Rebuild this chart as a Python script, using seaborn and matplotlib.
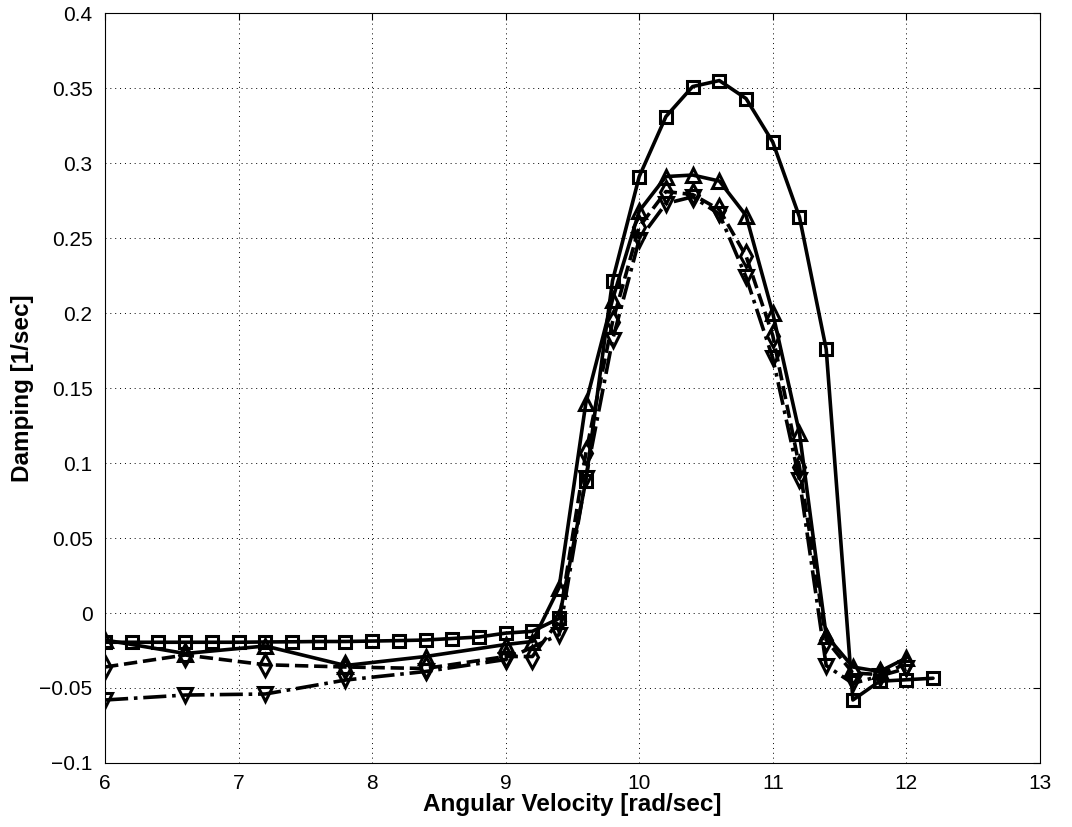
import numpy as np
import pandas as pd
import matplotlib
matplotlib.use('Agg')
import matplotlib.pyplot as plt
from matplotlib.ticker import FuncFormatter
import seaborn as sns

# Data
sq_x = [6.0, 6.2, 6.4, 6.6, 6.8, 7.0, 7.2, 7.4, 7.6, 7.8, 8.0, 8.2, 8.4, 8.6, 8.8,
        9.0, 9.2, 9.4, 9.6, 9.8, 10.0, 10.2, 10.4, 10.6, 10.8, 11.0, 11.2, 11.4,
        11.6, 11.8, 12.0, 12.2]
sq_y = [-0.0195, -0.0195, -0.0195, -0.0195, -0.0195, -0.0195, -0.0193, -0.0192,
        -0.019, -0.019, -0.0187, -0.0184, -0.018, -0.017, -0.016,
        -0.0134, -0.0122, -0.0036, 0.088, 0.2215, 0.291, 0.331, 0.351, 0.355,
        0.343, 0.314, 0.264, 0.176, -0.058, -0.0455, -0.0445, -0.0435]

tri_x = [6.0, 6.6, 7.2, 7.8, 8.4, 9.0, 9.2, 9.4, 9.6, 9.8, 10.0, 10.2, 10.4, 10.6,
         10.8, 11.0, 11.2, 11.4, 11.6, 11.8, 12.0]
tri_y = [-0.018, -0.027, -0.022, -0.035, -0.029, -0.021, -0.019, 0.017, 0.1398,
         0.209, 0.268, 0.291, 0.292, 0.288, 0.265, 0.200, 0.120, -0.015, -0.036,
         -0.039, -0.030]

dia_x = tri_x
dia_y = [-0.036, -0.028, -0.0345, -0.036, -0.037, -0.029, -0.029, -0.005, 0.1065,
         0.194, 0.2575, 0.281, 0.279, 0.269, 0.238, 0.185, 0.0975, -0.018, -0.040,
         -0.041, -0.034]

tdn_x = [6.0, 6.6, 7.2, 7.8, 8.4, 9.0, 9.4, 9.6, 9.8, 10.0, 10.2, 10.4, 10.6,
         10.8, 11.0, 11.2, 11.4, 11.6, 11.8, 12.0]
tdn_y = [-0.058, -0.0547, -0.054, -0.0447, -0.039, -0.031, -0.0145, 0.09, 0.182,
         0.249, 0.273, 0.2775, 0.266, 0.224, 0.170, 0.0887, -0.035, -0.047,
         -0.042, -0.037]

x_ticks = [6, 7, 8, 9, 10, 11, 12, 13]
y_ticks = [-0.1, -0.05, 0, 0.05, 0.1, 0.15, 0.2, 0.25, 0.3, 0.35, 0.4]

sns.set_style('white')
plt.rcParams['font.family'] = ['Liberation Sans', 'DejaVu Sans']
plt.rcParams['xtick.direction'] = 'in'
plt.rcParams['ytick.direction'] = 'in'
for k in ['text.color', 'axes.labelcolor', 'xtick.color', 'ytick.color']:
    plt.rcParams[k] = 'black'

fig = plt.figure(figsize=(10.72, 8.27), dpi=100)
ax = fig.add_axes([0.098, 0.0774, 0.872, 0.9068])

series = [
    (sq_x, sq_y, 's', '-', 8),
    (tri_x, tri_y, '^', '-', 10),
    (dia_x, dia_y, 'd', '--', 11),
    (tdn_x, tdn_y, 'v', '-.', 10),
]
for xs, ys, mk, ls, ms in series:
    df = pd.DataFrame({'x': xs, 'y': ys})
    sns.lineplot(data=df, x='x', y='y', ax=ax, color='black', linewidth=2.6,
                 linestyle=ls, marker=mk, markersize=ms, markerfacecolor='none',
                 markeredgecolor='black', markeredgewidth=2.2, estimator=None,
                 sort=False)

ax.set_xlim(6, 13)
ax.set_ylim(-0.1, 0.4)
ax.set_xticks(x_ticks)
ax.set_yticks(y_ticks)
ax.yaxis.set_major_formatter(FuncFormatter(lambda v, p: ('%g' % round(v, 2)).replace('-', '\u2212')))
ax.tick_params(labelsize=15, length=5, width=0.8, top=True, right=True,
               color='black', labelcolor='black')
ax.tick_params(axis='x', pad=8)
ax.tick_params(axis='y', pad=9)
ax.grid(True, linestyle=(0, (1, 4)), color='black', linewidth=0.7)
for s in ax.spines.values():
    s.set_color('black')
    s.set_linewidth(0.8)

ax.set_xlabel('Angular Velocity [rad/sec]', fontsize=17.5, fontweight='bold',
              labelpad=0, color='black')
ax.set_ylabel('Damping [1/sec]', fontsize=17.5, fontweight='bold', labelpad=4,
              color='black')

fig.savefig('out.png', dpi=100)
